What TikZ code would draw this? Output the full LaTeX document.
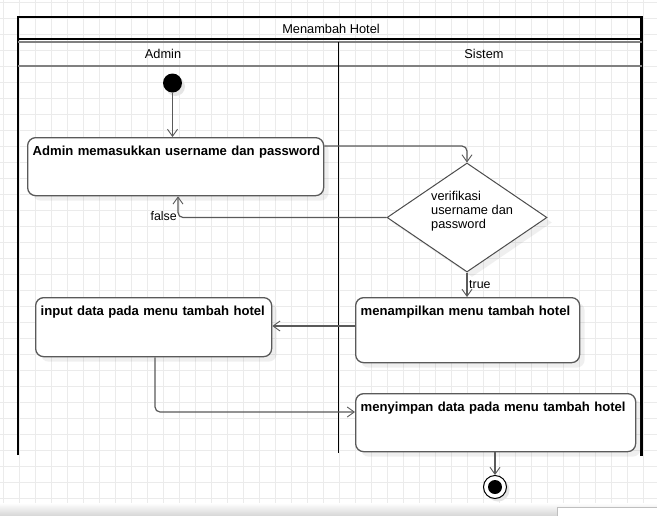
\documentclass[tikz,border=0pt]{standalone}
\usepackage{fontspec}
\setmainfont{Liberation Sans}
\usetikzlibrary{arrows.meta,shapes.geometric,shadows}
\definecolor{gridc}{HTML}{EBEBEB}
\definecolor{linec}{HTML}{5A5A5A}
\definecolor{hdrc}{HTML}{808080}
\tikzset{
  actbox/.style={draw=linec, line width=1.3pt, fill=white, rounded corners=8pt,
    anchor=north west, align=left, inner xsep=5pt, inner ysep=4pt,
    font=\fontsize{13.1}{14}\selectfont\bfseries, text height=14pt,
    drop shadow={opacity=0.12, shadow xshift=5pt, shadow yshift=-5pt}},
  flow/.style={draw=linec, line width=1.2pt, rounded corners=5pt,
    -{Straight Barb[length=7pt,width=10pt,line width=0.9pt]}},
  lbl/.style={font=\fontsize{12.4}{13}\selectfont, inner sep=1pt},
  hdr/.style={font=\fontsize{12.8}{13}\selectfont},
}
\begin{document}
\begin{tikzpicture}[x=1pt,y=-1pt]
\useasboundingbox (0,0) rectangle (657,515);
\fill[white] (0,0) rectangle (657,515);
\foreach \gx in {3.3,19.3,...,657} \draw[gridc, line width=0.8pt] (\gx,0) -- (\gx,515);
\foreach \gy in {2.7,18.7,...,515} \draw[gridc, line width=0.8pt] (0,\gy) -- (657,\gy);
% bottom gray band and tooltip
\shade[top color=white, bottom color=black!15] (0,503) rectangle (657,515);
\filldraw[fill=white, draw=black!25] (557,507) rectangle (660,520);
% frame
\draw[black, line width=2.2pt] (18.3,455) -- (18.3,17.3) -- (641.5,17.3) -- (641.5,456);
\draw[black, line width=2.2pt] (18.3,38.8) -- (641.5,38.8);
\draw[hdrc, line width=1.6pt] (18.3,42) -- (641.5,42);
\draw[hdrc, line width=1.6pt] (18.3,66) -- (641.5,66);
\draw[black, line width=1pt] (338.5,42) -- (338.5,453);
\node[hdr] (title) at (331,29) {Menambah Hotel};
\node[hdr] (laneA) at (163,54) {Admin};
\node[hdr] (laneS) at (484,54) {Sistem};
% start
\fill[black!10] (175.5,86.5) circle (9.5);
\node[circle, fill=black, minimum size=19pt, inner sep=0] (start) at (172.5,83) {};
% boxes
\node[actbox, text width=286pt, text depth=36pt] (b1) at (27,137) {\mbox{Admin memasukkan username dan password}};
\node[diamond, draw=black!70, line width=1pt, fill=white, minimum width=160pt, minimum height=109pt, inner sep=0,
  drop shadow={opacity=0.12, shadow xshift=5pt, shadow yshift=-5pt}] (d) at (467,217.5) {};
\node[align=left, anchor=north west, font=\fontsize{12.8}{14}\selectfont, inner sep=0] (dtext) at (431,191.5) {verifikasi\\username dan\\password};
\node[actbox, text width=226pt, text depth=37pt] (b2) at (35,297) {\mbox{input data pada menu tambah hotel}};
\node[actbox, text width=214pt, text depth=43pt] (b3) at (355,297) {\mbox{menampilkan menu tambah hotel}};
\node[actbox, text width=270pt, text depth=36pt] (b4) at (355,393) {\mbox{menyimpan data pada menu tambah hotel}};
% end
\fill[black!10] (498,490) circle (11.5);
\node[circle, draw=black, line width=1pt, fill=white, minimum size=23pt, inner sep=0] (end) at (495,487) {};
\fill[black] (end.center) circle (7);
% connectors
\draw[flow] (start) -- (b1.north -| start);
\draw[flow] (b1.east |- 0,146) -| (d.north);
\draw[flow] (d.west) -| (b1.south -| 178,0);
\node[lbl, anchor=east] (lf) at (178,216) {false};
\draw[flow] (d.south) -- (b3.north -| d.south);
\node[lbl, anchor=west] (lt) at (468,284.5) {true};
\draw[flow] (b3.west |- 0,326) -- (b2.east |- 0,326);
\draw[flow] (b2.south -| 155,0) |- (b4.west |- 0,412);
\draw[flow] (b4.south -| end) -- (end.north);
\end{tikzpicture}
\end{document}
